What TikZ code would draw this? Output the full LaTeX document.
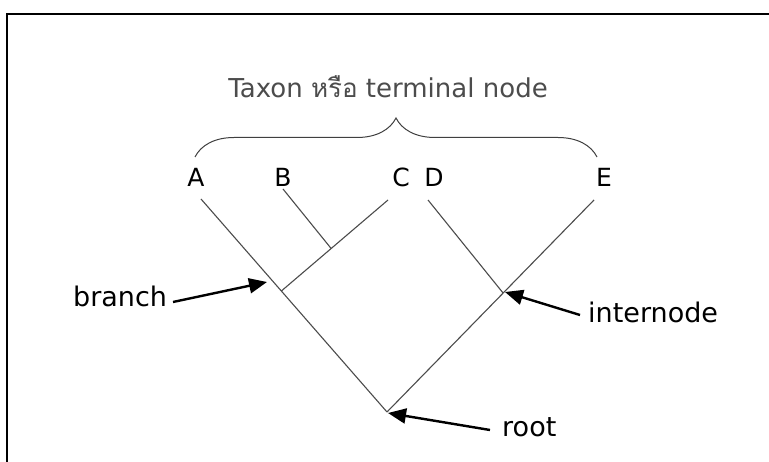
\documentclass[tikz,border=0pt]{standalone}
\usepackage{fontspec}
\setmainfont{DejaVu Sans}
\newfontfamily\thaifont[Script=Thai]{Loma}
\usetikzlibrary{arrows.meta,decorations.pathreplacing,calc}
\tikzset{
  treeline/.style={draw=black!70, line width=1.1pt},
  taxon/.style={anchor=base, inner sep=0pt, font=\fontsize{25}{29}\selectfont},
  lbl/.style={inner sep=2pt, font=\fontsize{27}{32}\selectfont},
  pointer/.style={draw=black, line width=2.4pt, -{Triangle[length=18pt,width=15pt]}},
}
\begin{document}
\begin{tikzpicture}[x=1pt,y=-1pt]
\useasboundingbox[fill=white] (0,0) rectangle (769,462);
% frame
\draw[line width=2pt] (7,462) -- (7,14) -- (769,14);

% tree coordinates
\coordinate (root) at (387,412);
\coordinate (AT) at (201,199);
\coordinate (ET) at (594,200);
\coordinate (CT) at (388,200);
\coordinate (BT) at (283,189);
\coordinate (DT) at (428,200);
\coordinate (j1) at ($(root)!0.568!(AT)$);
\coordinate (j3) at ($(root)!0.561!(ET)$);
\coordinate (j2) at ($(j1)!0.467!(CT)$);

\draw[treeline] (root) -- (AT);
\draw[treeline] (root) -- (ET);
\draw[treeline] (j1) -- (CT);
\draw[treeline] (j2) -- (BT);
\draw[treeline] (j3) -- (DT);

% taxon letters
\node[taxon] (A) at (196,187) {A};
\node[taxon] (B) at (283,187) {B};
\node[taxon] (C) at (401,187) {C};
\node[taxon] (D) at (434,187) {D};
\node[taxon] (E) at (604,187) {E};

% brace and title
\coordinate (bl) at (195,157);
\coordinate (br) at (597,157);
\draw[draw=black!75, line width=1pt, decorate, decoration={brace, amplitude=39pt}] (bl) -- (br);
\node[anchor=base, inner sep=0pt, text=black!70, font=\fontsize{26}{30}\selectfont] (title) at (388,98) {Taxon {\thaifont หรือ} terminal node};

% labels and pointers
\node[lbl, anchor=base west] (branch) at (71,307) {branch};
\node[lbl, anchor=base west] (internode) at (586,323) {internode};
\node[lbl, anchor=base west] (rootlbl) at (500,437) {root};
\coordinate (bt) at (267,282);
\coordinate (it) at (505,292);
\coordinate (rt) at (388,413);
\draw[pointer] (173,302) -- (bt);
\draw[pointer] (580,315) -- (it);
\draw[pointer] (490,430) -- (rt);
\end{tikzpicture}
\end{document}
